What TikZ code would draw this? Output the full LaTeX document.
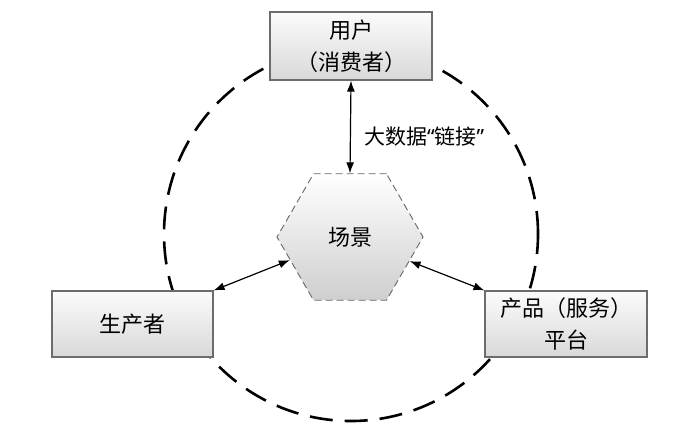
\documentclass[tikz,border=0pt]{standalone}
\usepackage{fontspec}
\setmainfont{Noto Sans CJK SC}
\newfontfamily\latq{Noto Sans}
\usetikzlibrary{shapes.geometric,arrows.meta}
\begin{document}
\begin{tikzpicture}[x=1pt,y=-1pt,
  box/.style={draw=gray!85!black, line width=1.1pt, top color=gray!3, bottom color=gray!30,
    inner sep=0pt, align=center, font=\fontsize{22}{32}\selectfont},
  hexa/.style={regular polygon, regular polygon sides=6, minimum size=146pt, inner sep=0pt,
    draw=gray!80!black, line width=0.9pt, dash pattern=on 7pt off 4pt,
    top color=white, bottom color=gray!38, font=\fontsize{22}{32}\selectfont},
  circ/.style={draw=black, line width=2.6pt, dash pattern=on 23pt off 12pt},
  conn/.style={draw=black, line width=1.2pt, {Latex[length=11pt,width=8pt]}-{Latex[length=11pt,width=8pt]}},
  lbl/.style={font=\fontsize{21}{24}\selectfont, inner sep=0pt}]
\useasboundingbox (0,0) rectangle (700,437);
\draw[circ] (351,234) circle[radius=187pt];
\node[box, minimum width=162pt, minimum height=68pt] (user) at (351,46) {用户\\（消费者）};
\node[box, minimum width=161pt, minimum height=66pt] (prod) at (132.5,324) {生产者};
\node[box, minimum width=162pt, minimum height=66pt] (plat) at (566,324) {产品（服务）\\平台};
\node[hexa] (hex) at (350,237) {场景};
\draw[conn] (user.south) -- (hex.north);
\draw[conn] (prod.north east) -- (hex.201);
\draw[conn] (hex.338) -- (plat.north west);
\node[lbl, anchor=west] (lab) at (364,137) {大数据{\latq “}链接{\latq ”}};
\end{tikzpicture}
\end{document}
